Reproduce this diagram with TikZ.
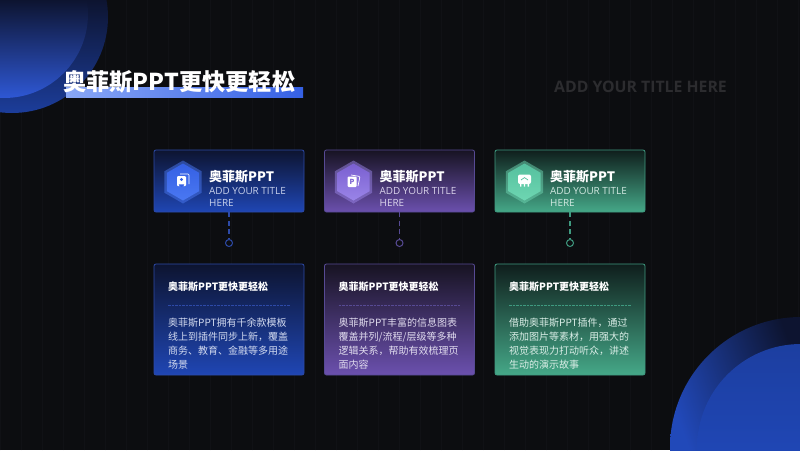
\documentclass[tikz,border=0pt]{standalone}
\usepackage{fontspec}
\setmainfont{Noto Sans CJK SC}
\newfontfamily\latinfont{Open Sans}
\usetikzlibrary{shapes.geometric}
\definecolor{pagebg}{HTML}{0C0D10}
\definecolor{gridcol}{HTML}{101115}
\definecolor{blueA}{HTML}{0D1430}
\definecolor{blueB}{HTML}{1F46B4}
\definecolor{blueC}{HTML}{2D4AA8}
\definecolor{blueD}{HTML}{3560E4}
\definecolor{blueE}{HTML}{4A78F2}
\definecolor{purpA}{HTML}{171322}
\definecolor{purpB}{HTML}{6B50AE}
\definecolor{purpC}{HTML}{574A94}
\definecolor{purpD}{HTML}{7A60D0}
\definecolor{purpE}{HTML}{9A84E8}
\definecolor{greenA}{HTML}{0F1E1C}
\definecolor{greenB}{HTML}{45A888}
\definecolor{greenC}{HTML}{3F9A80}
\definecolor{greenD}{HTML}{55C09E}
\definecolor{greenE}{HTML}{6ED6B2}
\tikzset{
  cardbox/.style={rectangle, rounded corners=2pt, minimum width=150pt, inner sep=0pt, line width=.8pt},
  headbox/.style={cardbox, minimum height=62pt},
  textbox/.style={cardbox, minimum height=111pt},
  hexhalo/.style={regular polygon, regular polygon sides=6, shape border rotate=30, minimum size=43pt, inner sep=0pt, fill opacity=.5},
  hexcore/.style={regular polygon, regular polygon sides=6, shape border rotate=30, minimum size=37pt, inner sep=0pt},
  headname/.style={anchor=west, inner sep=0pt, text=white, font=\fontsize{13}{13}\selectfont\bfseries},
  headsub/.style={anchor=north west, inner sep=0pt, align=left, font=\latinfont\fontsize{9.9}{12}\selectfont},
  cardtitle/.style={anchor=west, inner sep=0pt, text=white, font=\fontsize{10}{10}\selectfont\bfseries},
  cardbody/.style={anchor=north west, inner sep=0pt, align=left, font=\fontsize{10}{14}\selectfont},
  dotmark/.style={circle, draw, fill=pagebg, minimum size=7pt, inner sep=0pt, line width=1pt},
  linkline/.style={line width=1.1pt, dash pattern=on 5pt off 3.5pt},
  cutline/.style={line width=.8pt, dash pattern=on 2.5pt off 1pt},
}
\begin{document}
\begin{tikzpicture}[x=1pt,y=-1pt]
\useasboundingbox (0,0) rectangle (800,450);
\clip (0,0) rectangle (800,450);
\fill[pagebg] (0,0) rectangle (800,450);
\draw[gridcol, line width=.5pt, xstep=21, ystep=21] (0,0) grid (800,450);
% corner circles
\begin{scope}
\clip (12,17) circle (96);
\shade[top color=blueA, bottom color=blueB!85!pagebg] (0,0) rectangle (110,114);
\end{scope}
\begin{scope}
\clip (4,14) circle (84);
\shade[top color=blueA, bottom color=blueD!70!blueB] (0,0) rectangle (90,99);
\end{scope}
\begin{scope}
\clip (801,448) circle (131);
\shade[left color=blueB!90!blueD, right color=blueA, shading angle=110] (670,317) rectangle (800,450);
\end{scope}
\begin{scope}
\clip (801,448) circle (104);
\shade[top color=blueB!85!blueA, bottom color=blueB] (697,344) rectangle (800,450);
\end{scope}
% title
\shade[left color=blueE!65!white, right color=blueD] (66,87) rectangle (303,97);
\node[anchor=west, inner sep=0pt, text=white, font=\fontsize{23.2}{24}\selectfont\bfseries] (maintitle) at (63,82) {奥菲斯PPT更快更轻松};
\node[anchor=west, inner sep=0pt, text=white!13!pagebg, font=\latinfont\fontsize{15.8}{17}\selectfont\bfseries] (subtitle) at (554,86.5) {ADD YOUR TITLE HERE};
% blue column
\node[headbox, draw=blueC, top color=blueA, bottom color=blueB] (head1) at (229,181) {};
\node[dotmark, draw=blueC] (dot1) at (229,243) {};
\draw[linkline, blueC] (head1.south) -- (dot1.north);
\node[hexhalo, fill=blueE] (halo1) at (183,182) {};
\node[hexcore, top color=blueD, bottom color=blueE] (hex1) at (183,182) {};
\draw[white, line width=.7pt, rounded corners=1pt] (180,174) -- (189,174) -- (189,184);
\fill[white, rounded corners=1pt] (177,176) rectangle (186,186);
\fill[blueD] (181.5,179.5) circle (1.6);
\fill[blueD] (178.8,184.3) arc (180:0:2.7) -- cycle;
\node[headname] (name1) at (209,176.5) {奥菲斯PPT};
\node[headsub, text=blueB!25!white] (sub1) at (209,187.5) {ADD YOUR TITLE\\HERE};
\node[textbox, draw=blueC, top color=blueA, bottom color=blueB] (card1) at (229,319.5) {};
\node[cardtitle] (title1) at (168,286.5) {奥菲斯PPT更快更轻松};
\coordinate (cutL1) at (168,305);
\coordinate (cutR1) at (290,305);
\draw[cutline, blueC] (cutL1) -- (cutR1);
\node[cardbody, text=blueB!20!white] (body1) at (168,317.5) {奥菲斯PPT拥有千余款模板\\线上到插件同步上新，覆盖\\商务、教育、金融等多用途\\场景};
% purple column
\node[headbox, draw=purpC, top color=purpA, bottom color=purpB] (head2) at (399.5,181) {};
\node[dotmark, draw=purpC] (dot2) at (399.5,243) {};
\draw[linkline, purpC] (head2.south) -- (dot2.north);
\node[hexhalo, fill=purpE] (halo2) at (353.5,182) {};
\node[hexcore, top color=purpD, bottom color=purpE] (hex2) at (353.5,182) {};
\draw[white, line width=.7pt, rounded corners=1pt] (351,175) -- (360,176.5) -- (358,186);
\fill[white, rounded corners=1pt] (347.5,176.5) rectangle (356.5,187);
\node[inner sep=0pt, text=purpD, font=\fontsize{7}{7}\selectfont\bfseries] (mark2) at (352,181.8) {P};
\node[headname] (name2) at (379.5,176.5) {奥菲斯PPT};
\node[headsub, text=purpB!25!white] (sub2) at (379.5,187.5) {ADD YOUR TITLE\\HERE};
\node[textbox, draw=purpC, top color=purpA, bottom color=purpB] (card2) at (399.5,319.5) {};
\node[cardtitle] (title2) at (338.5,286.5) {奥菲斯PPT更快更轻松};
\coordinate (cutL2) at (338.5,305);
\coordinate (cutR2) at (460.5,305);
\draw[cutline, purpC] (cutL2) -- (cutR2);
\node[cardbody, text=purpB!20!white] (body2) at (338.5,317.5) {奥菲斯PPT丰富的信息图表\\覆盖并列/流程/层级等多种\\逻辑关系，帮助有效梳理页\\面内容};
% green column
\node[headbox, draw=greenC, top color=greenA, bottom color=greenB] (head3) at (570,181) {};
\node[dotmark, draw=greenC] (dot3) at (570,243) {};
\draw[linkline, greenC] (head3.south) -- (dot3.north);
\node[hexhalo, fill=greenE] (halo3) at (524.5,182) {};
\node[hexcore, top color=greenD, bottom color=greenE] (hex3) at (524.5,182) {};
\fill[white, rounded corners=2pt] (518,174.5) rectangle (531,184);
\fill[white] (520,184) rectangle (521.3,186.5) (523.8,184) rectangle (525.2,186.5) (527.7,184) rectangle (529,186.5);
\draw[greenD, line width=.7pt] (521,180) -- (524.5,177.6) -- (528,180);
\node[headname] (name3) at (550,176.5) {奥菲斯PPT};
\node[headsub, text=greenB!25!white] (sub3) at (550,187.5) {ADD YOUR TITLE\\HERE};
\node[textbox, draw=greenC, top color=greenA, bottom color=greenB] (card3) at (570,319.5) {};
\node[cardtitle] (title3) at (509,286.5) {奥菲斯PPT更快更轻松};
\coordinate (cutL3) at (509,305);
\coordinate (cutR3) at (631,305);
\draw[cutline, greenC] (cutL3) -- (cutR3);
\node[cardbody, text=greenB!20!white] (body3) at (509,317.5) {借助奥菲斯PPT插件，通过\\添加图片等素材，用强大的\\视觉表现力打动听众，讲述\\生动的演示故事};
\end{tikzpicture}
\end{document}
